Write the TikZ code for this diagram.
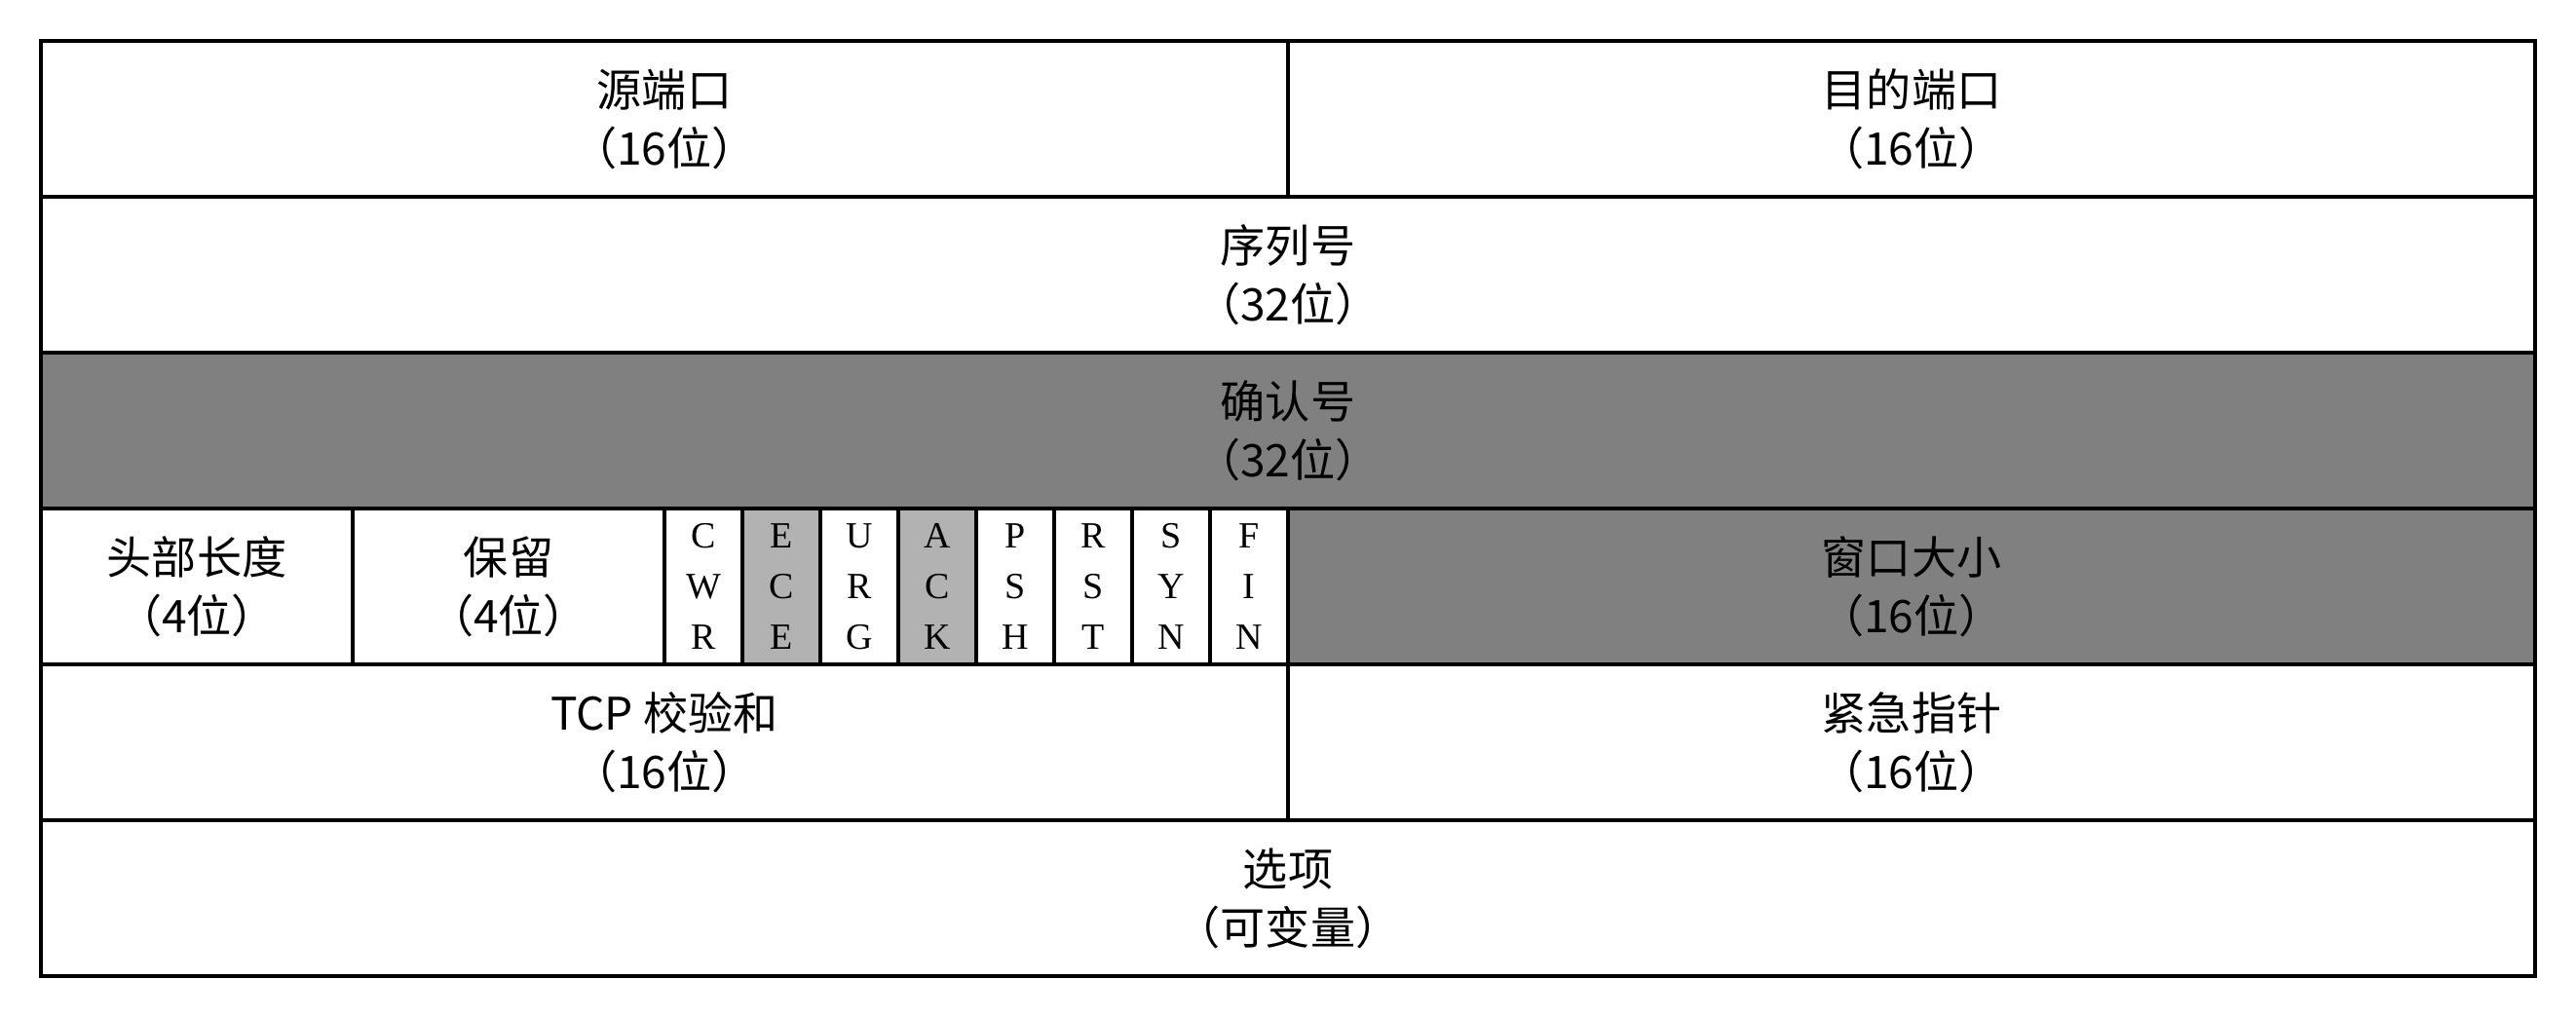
\documentclass[tikz,border=0pt]{standalone}
\usepackage{fontspec}
\newfontfamily\cjk{Noto Sans CJK SC}
\newfontfamily\flagfont{Liberation Serif}
\usetikzlibrary{positioning}

\tikzset{
  field/.style={draw, line width=1.4pt, minimum height=2cm, inner sep=0pt, outer sep=0pt,
    anchor=north west, align=center, font=\cjk\fontsize{16.4}{21.3}\selectfont},
  flagbit/.style={field, minimum width=1cm, font=\flagfont\fontsize{13.5}{18.5}\selectfont},
  darkfield/.style={field, fill=gray}
}

\begin{document}
\begin{tikzpicture}
\useasboundingbox (-0.525,-12.525) rectangle (32.525,0.525);

% ports
\node[field, minimum width=16cm] (src) at (0,0) {源端口\\（16位）};
\node[field, minimum width=16cm] (dst) at (src.north east) {目的端口\\（16位）};

% sequence and acknowledgement numbers
\node[field, minimum width=32cm] (seq) at (src.south west) {序列号\\（32位）};
\node[darkfield, minimum width=32cm] (ack) at (seq.south west) {确认号\\（32位）};

% header length, reserved, flags, window
\node[field, minimum width=4cm] (hlen) at (ack.south west) {头部长度\\（4位）};
\node[field, minimum width=4cm] (rsv) at (hlen.north east) {保留\\（4位）};
\foreach \lbl/\col [count=\i from 0] in {{C\\W\\R}/white,{E\\C\\E}/gray!60,{U\\R\\G}/white,{A\\C\\K}/gray!60,
    {P\\S\\H}/white,{R\\S\\T}/white,{S\\Y\\N}/white,{F\\I\\N}/white}
  \node[flagbit, fill=\col] (flag\i) at ([xshift=\i cm]rsv.north east) {\lbl};
\node[darkfield, minimum width=16cm] (win) at (flag7.north east) {窗口大小\\（16位）};

% checksum and urgent pointer
\node[field, minimum width=16cm] (csum) at (hlen.south west) {TCP 校验和\\（16位）};
\node[field, minimum width=16cm] (urg) at (csum.north east) {紧急指针\\（16位）};

% options
\node[field, minimum width=32cm] (opt) at (csum.south west) {选项\\（可变量）};

\end{tikzpicture}
\end{document}
